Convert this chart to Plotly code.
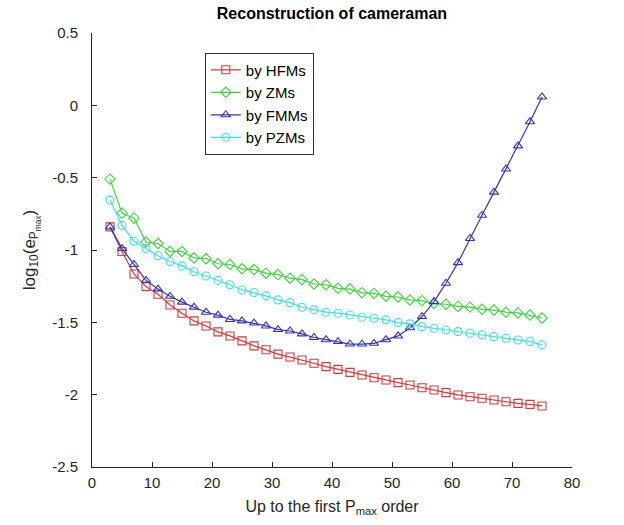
import plotly.graph_objects as go

orders = list(range(3, 76, 2))

hfm = [-0.84, -1.01, -1.166, -1.253, -1.306, -1.38, -1.437, -1.49, -1.525, -1.566,
       -1.594, -1.628, -1.663, -1.69, -1.72, -1.74, -1.76, -1.783, -1.806, -1.825,
       -1.846, -1.864, -1.883, -1.899, -1.917, -1.933, -1.952, -1.968, -1.986, -2.002,
       -2.014, -2.025, -2.037, -2.049, -2.06, -2.067, -2.078]

zm = [-0.51, -0.745, -0.78, -0.945, -0.955, -1.01, -1.01, -1.055, -1.06, -1.095,
      -1.10, -1.13, -1.135, -1.16, -1.17, -1.195, -1.205, -1.235, -1.24, -1.265,
      -1.27, -1.295, -1.30, -1.32, -1.325, -1.345, -1.35, -1.37, -1.375, -1.39,
      -1.395, -1.41, -1.415, -1.43, -1.435, -1.45, -1.47]

fmm = [-0.84, -0.99, -1.10, -1.21, -1.27, -1.32, -1.36, -1.395, -1.43, -1.45,
       -1.48, -1.49, -1.505, -1.525, -1.55, -1.56, -1.58, -1.605, -1.62, -1.633,
       -1.65, -1.65, -1.645, -1.62, -1.594, -1.537, -1.46, -1.357, -1.23, -1.087,
       -0.92, -0.76, -0.60, -0.44, -0.28, -0.113, 0.058]

pzm = [-0.655, -0.83, -0.94, -0.99, -1.04, -1.08, -1.11, -1.15, -1.18, -1.21,
       -1.24, -1.276, -1.294, -1.317, -1.345, -1.364, -1.396, -1.414, -1.43, -1.437,
       -1.449, -1.465, -1.472, -1.483, -1.502, -1.511, -1.53, -1.541, -1.553, -1.564,
       -1.575, -1.587, -1.599, -1.61, -1.622, -1.633, -1.656]

series = [
    ("by HFMs", hfm, "#d43b3b", "square-open"),
    ("by ZMs", zm, "#3fd43f", "diamond-open"),
    ("by FMMs", fmm, "#3535b8", "triangle-up-open"),
    ("by PZMs", pzm, "#3fe0e0", "circle-open"),
]

x_ticks = [0, 10, 20, 30, 40, 50, 60, 70, 80]
y_ticks = [0.5, 0, -0.5, -1, -1.5, -2, -2.5]
y_ticktext = ["0.5", "0", "-0.5", "-1", "-1.5", "-2", "-2.5"]

FONT = "Liberation Sans, Arial, sans-serif"

fig = go.Figure()
for name, vals, col, sym in series:
    fig.add_trace(go.Scatter(
        x=orders, y=vals, name=name, mode="lines+markers",
        line=dict(color=col, width=1.2),
        marker=dict(symbol=sym, size=8, color=col, line=dict(width=1.1, color=col)),
    ))

fig.update_layout(
    width=624, height=525,
    margin=dict(l=92, r=52, t=33, b=58),
    paper_bgcolor="white", plot_bgcolor="white",
    font=dict(family=FONT, size=15, color="#262626"),
    title=dict(text="<b>Reconstruction of cameraman</b>", x=0.532, xanchor="center",
               y=0.975, yanchor="middle",
               font=dict(family=FONT, size=16, color="black")),
    showlegend=True,
    legend=dict(x=0.235, y=0.955, xanchor="left", yanchor="top",
                bgcolor="white", bordercolor="#333333", borderwidth=1,
                font=dict(family=FONT, size=15, color="black"),
                itemwidth=30, tracegroupgap=0),
)
fig.update_xaxes(
    range=[0, 80], tickvals=x_ticks, ticktext=[str(v) for v in x_ticks],
    ticks="inside", ticklen=5, tickcolor="#262626", showline=True, linecolor="#262626",
    linewidth=1, showgrid=False, zeroline=False, mirror=False,
    tickfont=dict(size=15), ticklabelstandoff=2,
    title=dict(text="Up to the first P<sub>max</sub> order", standoff=10,
               font=dict(size=16, color="#262626")),
)
fig.update_yaxes(
    range=[-2.5, 0.5], tickvals=y_ticks, ticktext=y_ticktext,
    ticks="inside", ticklen=5, tickcolor="#262626", showline=True, linecolor="#262626",
    linewidth=1, showgrid=False, zeroline=False, mirror=False,
    tickfont=dict(size=15), ticklabelstandoff=10,
    title=dict(text="log<sub>10</sub>(e<sub>P<sub>max</sub></sub>)", standoff=12,
               font=dict(size=17, color="#262626")),
)

fig.write_html("out.html")
